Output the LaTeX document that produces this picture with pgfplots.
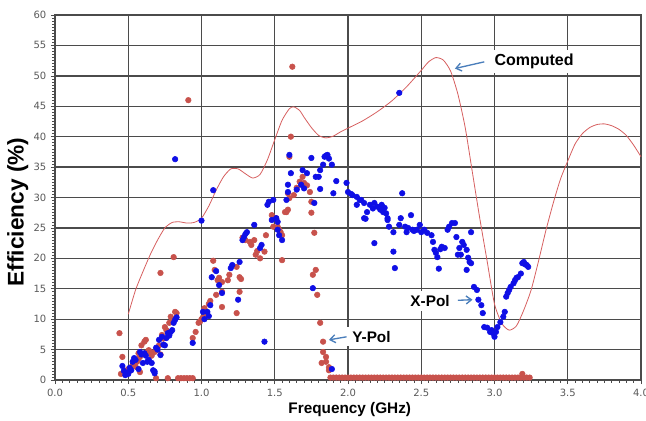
\documentclass[border=0pt]{standalone}
\usepackage{fontspec}
\setmainfont{Liberation Sans}
\newfontfamily\tickfont{DejaVu Sans}
\usepackage{pgfplots}
\pgfplotsset{compat=1.18}
\usetikzlibrary{arrows.meta}

\definecolor{xpol}{RGB}{15,15,230}
\definecolor{ypol}{RGB}{200,82,76}
\definecolor{comp}{RGB}{214,95,95}
\definecolor{gridc}{RGB}{75,75,75}
\definecolor{arr}{RGB}{74,126,187}

\begin{document}
\begin{tikzpicture}
\useasboundingbox (-41.25pt,-30.75pt) rectangle (443.25pt,285pt);
\begin{axis}[
  at={(0,0)}, anchor=south west,
  scale only axis, width=439.5pt, height=273.75pt,
  xmin=0, xmax=4, ymin=0, ymax=60,
  xtick={0,0.5,1,1.5,2,2.5,3,3.5,4}, ytick={0,5,...,60},
  minor x tick num=9, minor y tick num=9,
  tick pos=left, tick align=outside,
  major tick length=3pt, minor tick length=2pt,
  every tick/.style={gridc, line width=0.5pt},
  grid=major, grid style={gridc, line width=1pt},
  axis line style={gridc, line width=1pt},
  /pgf/number format/assume math mode=true,
  tick label style={font=\tickfont\fontsize{7.5}{8}\selectfont, text=black!65},
  xticklabel style={/pgf/number format/.cd, fixed, fixed zerofill, precision=1},
  xlabel={Frequency (GHz)},
  xlabel style={font=\bfseries\fontsize{11.5}{13}\selectfont,
    at={(axis description cs:0.503,0)}, anchor=center, yshift=-22.5pt},
  clip=false,
]
% Computed
\addplot[comp, line width=0.6pt, smooth, tension=0.4] coordinates {
(0.50,10.8) (0.55,14.8) (0.60,17.8) (0.65,20.6) (0.70,23.0) (0.75,25.0)
(0.80,25.9) (0.85,26.0) (0.90,25.8) (0.95,25.9) (1.00,26.6) (1.05,28.6)
(1.10,31.2) (1.15,33.4) (1.20,34.7) (1.25,34.7) (1.30,33.9) (1.35,33.2)
(1.40,33.8) (1.45,36.2) (1.50,39.5) (1.55,42.7) (1.60,44.6) (1.63,44.9)
(1.67,44.3) (1.70,43.2) (1.75,41.5) (1.80,40.2) (1.85,39.8) (1.90,40.1)
(1.95,40.8) (2.00,41.4) (2.10,42.6) (2.20,44.1) (2.30,45.9) (2.40,48.2)
(2.50,50.9) (2.55,52.3) (2.60,53.0) (2.65,52.6) (2.70,50.8) (2.75,47.0)
(2.80,41.5) (2.85,34.0) (2.90,26.5) (2.95,19.5) (3.00,12.5) (3.05,9.3)
(3.10,8.2) (3.15,8.9) (3.20,11.5) (3.25,14.8) (3.30,19.5) (3.35,24.5)
(3.40,29.0) (3.45,33.0) (3.50,36.0) (3.55,38.8) (3.60,40.5) (3.65,41.5)
(3.70,42.0) (3.75,42.1) (3.80,41.8) (3.85,41.2) (3.90,40.2) (3.95,38.6)
(4.00,36.7)};
% Y-Pol
\addplot[ypol, only marks, mark=*, mark size=2.1pt, mark options={solid, fill=ypol, draw=none}] coordinates {
(0.44,7.7) (0.46,3.8) (0.45,1.0) (0.47,1.2) (0.48,1.4) (0.49,1.6) (0.50,1.8)
(0.51,1.5) (0.52,2.1) (0.53,2.4) (0.54,2.6) (0.55,2.2) (0.56,3.0) (0.57,3.5)
(0.58,3.8) (0.57,4.4) (0.59,5.7) (0.58,1.3) (0.61,6.3) (0.62,6.6) (0.63,4.6)
(0.64,4.9) (0.65,4.6) (0.66,4.0) (0.68,4.6) (0.69,0.3) (0.70,5.0) (0.71,5.7)
(0.72,4.2) (0.73,7.4) (0.72,17.6) (0.74,6.8) (0.75,8.7) (0.76,8.2) (0.77,0.3)
(0.78,9.4) (0.79,10.4) (0.80,10.0) (0.81,20.2) (0.82,11.2) (0.83,11.0)
(0.84,0.3) (0.86,0.3) (0.88,0.3) (0.90,0.3) (0.91,46.0) (0.92,0.3) (0.94,0.3)
(0.94,6.9) (0.96,7.9) (0.98,9.4) (0.99,9.6) (1.00,10.0) (1.01,10.3) (1.02,11.8)
(1.03,10.6) (1.05,12.5) (1.06,13.0) (1.08,19.6) (1.09,18.1) (1.10,14.0)
(1.11,16.4) (1.12,16.8) (1.14,16.1) (1.14,14.5) (1.14,12.0) (1.18,16.4)
(1.19,17.3) (1.24,18.6) (1.24,11.0) (1.26,16.9) (1.27,16.6) (1.26,14.5)
(1.28,23.4) (1.30,23.0) (1.33,22.7) (1.34,22.2) (1.36,23.0) (1.37,20.6)
(1.38,21.2) (1.40,20.0) (1.43,21.1) (1.44,23.8) (1.48,27.1) (1.49,25.2)
(1.51,26.6) (1.52,25.2) (1.53,24.7) (1.54,24.3) (1.55,23.8) (1.55,19.7)
(1.57,27.6) (1.58,27.6) (1.59,28.0) (1.59,30.7) (1.60,29.9) (1.60,36.7)
(1.61,40.0) (1.62,51.5) (1.63,30.4) (1.65,31.6) (1.67,32.6) (1.69,33.4)
(1.70,32.4) (1.72,32.0) (1.74,30.9) (1.75,29.3) (1.75,27.5) (1.76,17.3)
(1.77,24.2) (1.78,18.1) (1.79,14.0) (1.81,9.4) (1.82,2.8) (1.83,6.3)
(1.83,4.6) (1.85,3.8) (1.85,3.0) (1.87,2.1) (1.87,1.6) (3.19,1.0)
(1.88,0.4) (1.90,0.4) (1.92,0.4) (1.94,0.4) (1.96,0.4) (1.98,0.4) (2.00,0.4)
(2.02,0.4) (2.04,0.4) (2.06,0.4) (2.08,0.4) (2.10,0.4) (2.12,0.4) (2.14,0.4)
(2.16,0.4) (2.18,0.4) (2.20,0.4) (2.22,0.4) (2.24,0.4) (2.26,0.4) (2.28,0.4)
(2.30,0.4) (2.32,0.4) (2.34,0.4) (2.36,0.4) (2.38,0.4) (2.40,0.4) (2.42,0.4)
(2.44,0.4) (2.46,0.4) (2.48,0.4) (2.50,0.4) (2.52,0.4) (2.54,0.4) (2.56,0.4)
(2.58,0.4) (2.60,0.4) (2.62,0.4) (2.64,0.4) (2.66,0.4) (2.68,0.4) (2.70,0.4)
(2.72,0.4) (2.74,0.4) (2.76,0.4) (2.78,0.4) (2.80,0.4) (2.82,0.4) (2.84,0.4)
(2.86,0.4) (2.88,0.4) (2.90,0.4) (2.92,0.4) (2.94,0.4) (2.96,0.4) (2.98,0.4)
(3.00,0.4) (3.02,0.4) (3.04,0.4) (3.06,0.4) (3.08,0.4) (3.10,0.4) (3.12,0.4)
(3.14,0.4) (3.16,0.4) (3.18,0.4) (3.20,0.4) (3.22,0.4) (3.24,0.4)};
% X-Pol
\addplot[xpol, only marks, mark=*, mark size=2.1pt, mark options={solid, fill=xpol, draw=none}] coordinates {
(0.46,2.3) (0.47,1.5) (0.48,0.8) (0.49,1.2) (0.50,1.0) (0.51,2.0) (0.52,1.6)
(0.53,3.0) (0.54,3.6) (0.55,3.3) (0.57,1.8) (0.58,4.6) (0.59,4.2) (0.60,2.8)
(0.61,4.4) (0.62,4.0) (0.63,3.0) (0.64,3.3) (0.66,2.8) (0.67,1.6) (0.68,1.1)
(0.68,1.4) (0.69,5.3) (0.70,5.0) (0.71,6.6) (0.72,4.1) (0.73,7.1) (0.74,5.8)
(0.75,5.7) (0.76,6.9) (0.77,7.7) (0.78,7.3) (0.79,7.9) (0.80,8.2) (0.81,9.4)
(0.82,9.9) (0.83,10.3) (0.82,36.3) (0.94,6.1) (1.00,26.2) (1.01,11.2)
(1.02,10.0) (1.04,11.2) (1.05,10.5) (1.06,12.3) (1.07,16.9) (1.10,17.9)
(1.08,31.2) (1.12,15.6) (1.14,14.3) (1.25,13.2) (1.20,18.4) (1.21,18.9)
(1.26,19.4) (1.28,23.0) (1.29,23.5) (1.31,24.3) (1.30,24.0) (1.36,25.5)
(1.40,21.7) (1.41,22.2) (1.45,28.8) (1.46,29.3) (1.48,26.3) (1.51,26.6)
(1.52,26.0) (1.53,23.8) (1.55,23.0) (1.58,29.6) (1.59,32.1) (1.65,31.3)
(1.43,6.3) (1.49,29.6) (1.52,24.7) (1.59,30.9) (1.60,37.0) (1.61,34.0)
(1.68,32.1) (1.69,34.5) (1.70,31.5) (1.72,34.0) (1.75,36.5) (1.76,15.1)
(1.77,29.1) (1.78,33.4) (1.80,33.4) (1.81,34.5) (1.81,31.4) (1.83,35.4)
(1.84,36.7) (1.85,36.9) (1.86,37.0) (1.87,36.4) (1.89,35.4) (1.89,1.8)
(1.90,30.7) (1.92,32.7) (1.99,32.4) (2.00,30.9) (2.02,30.6) (2.03,30.4)
(2.06,30.1) (2.06,28.8) (2.08,29.6) (2.09,29.6) (2.11,29.1) (2.11,26.6)
(2.12,26.5) (2.13,27.6) (2.15,28.8) (2.17,28.2) (2.18,29.1) (2.18,22.5)
(2.20,28.5) (2.22,28.0) (2.23,28.8) (2.24,27.6) (2.25,28.3) (2.26,27.4)
(2.27,26.6) (2.27,26.3) (2.28,25.2) (2.31,24.3) (2.31,21.1) (2.32,18.4)
(2.35,47.2) (2.35,25.5) (2.36,26.6) (2.37,30.7) (2.39,25.2) (2.40,24.3)
(2.41,25.0) (2.43,27.1) (2.44,24.7) (2.45,24.5) (2.47,24.7) (2.49,25.5)
(2.50,24.3) (2.52,24.7) (2.54,24.2) (2.57,23.8) (2.58,22.7) (2.59,21.4)
(2.60,20.9) (2.61,20.2) (2.62,18.3) (2.63,21.5) (2.64,21.9) (2.66,21.7)
(2.68,24.7) (2.69,25.2) (2.71,25.8) (2.73,25.8) (2.74,23.5) (2.75,20.6)
(2.76,21.7) (2.77,20.6) (2.78,22.7) (2.79,22.2) (2.81,21.4) (2.81,18.1)
(2.82,20.1) (2.83,19.4) (2.84,19.2) (2.84,24.3) (2.86,15.3) (2.88,14.8)
(2.89,13.2) (2.91,12.3) (2.92,11.0) (2.93,8.7) (2.95,8.6) (2.97,7.9)
(2.98,8.2) (2.99,7.7) (3.00,7.1) (3.01,7.9) (3.02,8.7) (3.04,9.5) (3.06,10.4)
(3.07,11.2) (3.08,13.7) (3.09,14.3) (3.10,14.8) (3.11,15.3) (3.13,15.9)
(3.14,16.4) (3.15,16.8) (3.16,16.9) (3.18,17.5) (3.19,19.2) (3.20,19.4)
(3.21,19.0) (3.22,18.9) (3.23,18.6)};
% annotations
\node[fill=white, inner xsep=3pt, inner ysep=3pt, font=\bfseries\fontsize{12}{14}\selectfont]
  at (axis cs:3.27,52.3) {Computed};
\draw[arr, line width=1pt, -{Straight Barb[length=4pt,width=6pt]}] (axis cs:2.93,52.3) -- (axis cs:2.73,51.2);
\node[fill=white, inner xsep=4pt, inner ysep=3pt, font=\bfseries\fontsize{11.5}{13}\selectfont]
  at (axis cs:2.56,13.0) {X-Pol};
\draw[arr, line width=1pt, -{Straight Barb[length=4pt,width=6pt]}] (axis cs:2.75,13.1) -- (axis cs:2.85,13.2);
\node[fill=white, inner xsep=4pt, inner ysep=3pt, font=\bfseries\fontsize{11.5}{13}\selectfont]
  at (axis cs:2.16,7.1) {Y-Pol};
\draw[arr, line width=1pt, -{Straight Barb[length=4pt,width=6pt]}] (axis cs:1.99,7.1) -- (axis cs:1.87,6.6);
\end{axis}
\node[rotate=90, font=\bfseries\fontsize{17}{19}\selectfont] at (-28pt,126pt) {Efficiency (\%)};
\end{tikzpicture}
\end{document}
